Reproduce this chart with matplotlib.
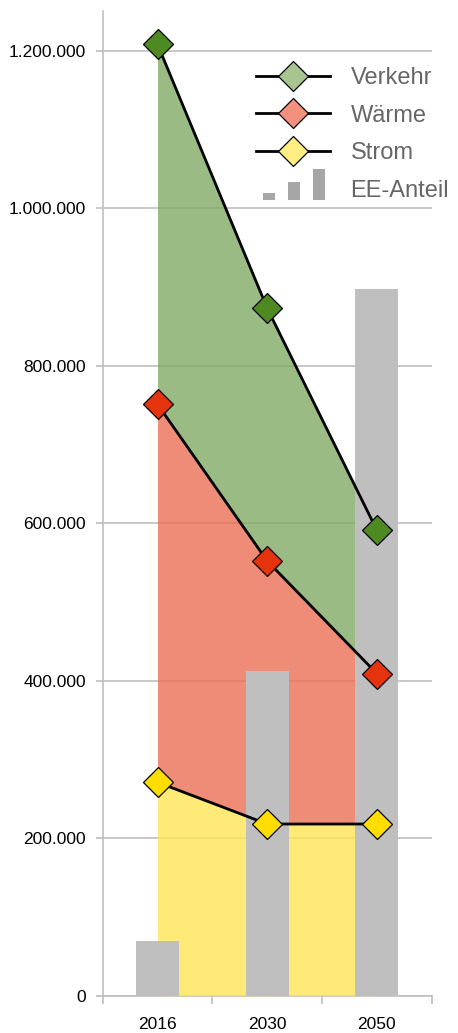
import matplotlib
matplotlib.use("Agg")
import matplotlib.pyplot as plt
from matplotlib.lines import Line2D
from matplotlib.patches import Rectangle
from matplotlib.legend_handler import HandlerBase
from matplotlib.ticker import FuncFormatter, MultipleLocator, FixedLocator
import numpy as np

plt.rcParams['font.family'] = ['Liberation Sans', 'DejaVu Sans']

# Data
years = ["2016", "2030", "2050"]
strom = [271000, 218000, 218000]
waerme = [480000, 334000, 191000]
verkehr = [457000, 321000, 182000]
ee_anteil = [69000, 412000, 897000]

x = np.arange(len(years))
lvl_strom = np.array(strom)
lvl_waerme = lvl_strom + np.array(waerme)
lvl_verkehr = lvl_waerme + np.array(verkehr)

fig = plt.figure(figsize=(4.58, 10.33), dpi=100)
ax = fig.add_axes([102.7 / 458, 37.3 / 1033, (431.7 - 102.7) / 458, (995.7 - 11.3) / 1033])

area_alpha = 0.8
ax.fill_between(x, 0, lvl_strom, color=(255/255, 229/255, 86/255), alpha=area_alpha, lw=0, zorder=2)
ax.fill_between(x, lvl_strom, lvl_waerme, color=(236/255, 111/255, 86/255), alpha=area_alpha, lw=0, zorder=2)
ax.fill_between(x, lvl_waerme, lvl_verkehr, color=(130/255, 170/255, 101/255), alpha=area_alpha, lw=0, zorder=2)

ax.bar(x, ee_anteil, width=0.39, color="#BFBFBF", zorder=3)

marker_kw = dict(marker="D", markersize=15, markeredgecolor="black", markeredgewidth=0.9,
                 color="black", lw=2.0, zorder=5, clip_on=False)
ax.plot(x, lvl_verkehr, markerfacecolor="#4E8A21", **marker_kw)
ax.plot(x, lvl_waerme, markerfacecolor="#E5330D", **marker_kw)
ax.plot(x, lvl_strom, markerfacecolor="#FFDD00", **marker_kw)

ax.set_xlim(-0.5, 2.5)
ax.set_ylim(0, 1250000)

# Axes styling
for s in ["top", "right"]:
    ax.spines[s].set_visible(False)
for s in ["left", "bottom"]:
    ax.spines[s].set_color("#BFBFBF")
    ax.spines[s].set_linewidth(1.2)
    ax.spines[s].set_zorder(1)

ax.yaxis.set_major_locator(MultipleLocator(200000))
ax.yaxis.set_major_formatter(FuncFormatter(lambda v, p: f"{int(v):,}".replace(",", ".")))
ax.yaxis.grid(True, color="#BFBFBF", lw=1.2, zorder=1)
ax.set_axisbelow(True)
ax.tick_params(axis="y", length=5, width=1.2, color="#BFBFBF", labelsize=12.5, pad=7, labelcolor="black")

ax.set_xticks(x)
ax.set_xticklabels(years)
ax.xaxis.set_minor_locator(FixedLocator([-0.5, 0.5, 1.5, 2.5]))
ax.tick_params(axis="x", which="major", length=0, labelsize=12.5, pad=15, labelcolor="black")
ax.tick_params(axis="x", which="minor", length=6, width=1.2, color="#BFBFBF")


class BarsHandler(HandlerBase):
    def create_artists(self, legend, orig_handle, xdescent, ydescent, width, height, fontsize, trans):
        artists = []
        bw = width * 0.16
        heights = [0.45, 1.1, 1.85]
        xs = [width * 0.09, width * 0.43, width * 0.77]
        for xi, hi in zip(xs, heights):
            r = Rectangle((xi - xdescent, -ydescent - height * 0.2), bw, height * hi,
                          facecolor="#A6A6A6", edgecolor="none", transform=trans)
            artists.append(r)
        return artists


h_kw = dict(color="black", lw=2.0, marker="D", markersize=15, markeredgecolor="black", markeredgewidth=0.9)
handles = [
    Line2D([], [], markerfacecolor="#A9C48F", **h_kw),
    Line2D([], [], markerfacecolor="#F4907E", **h_kw),
    Line2D([], [], markerfacecolor="#FFEE80", **h_kw),
    Rectangle((0, 0), 1, 1),
]
labels = ["Verkehr", "Wärme", "Strom", "EE-Anteil"]
leg = fig.legend(handles, labels, loc="upper left", bbox_to_anchor=(256 / 458, 1 - 67 / 1033),
                 frameon=False, fontsize=17, handlelength=3.15, handletextpad=0.85,
                 labelspacing=0.66, borderpad=0, borderaxespad=0,
                 handler_map={Rectangle: BarsHandler()})
for t in leg.get_texts():
    t.set_color("#666666")

fig.savefig("out.png", dpi=100)
